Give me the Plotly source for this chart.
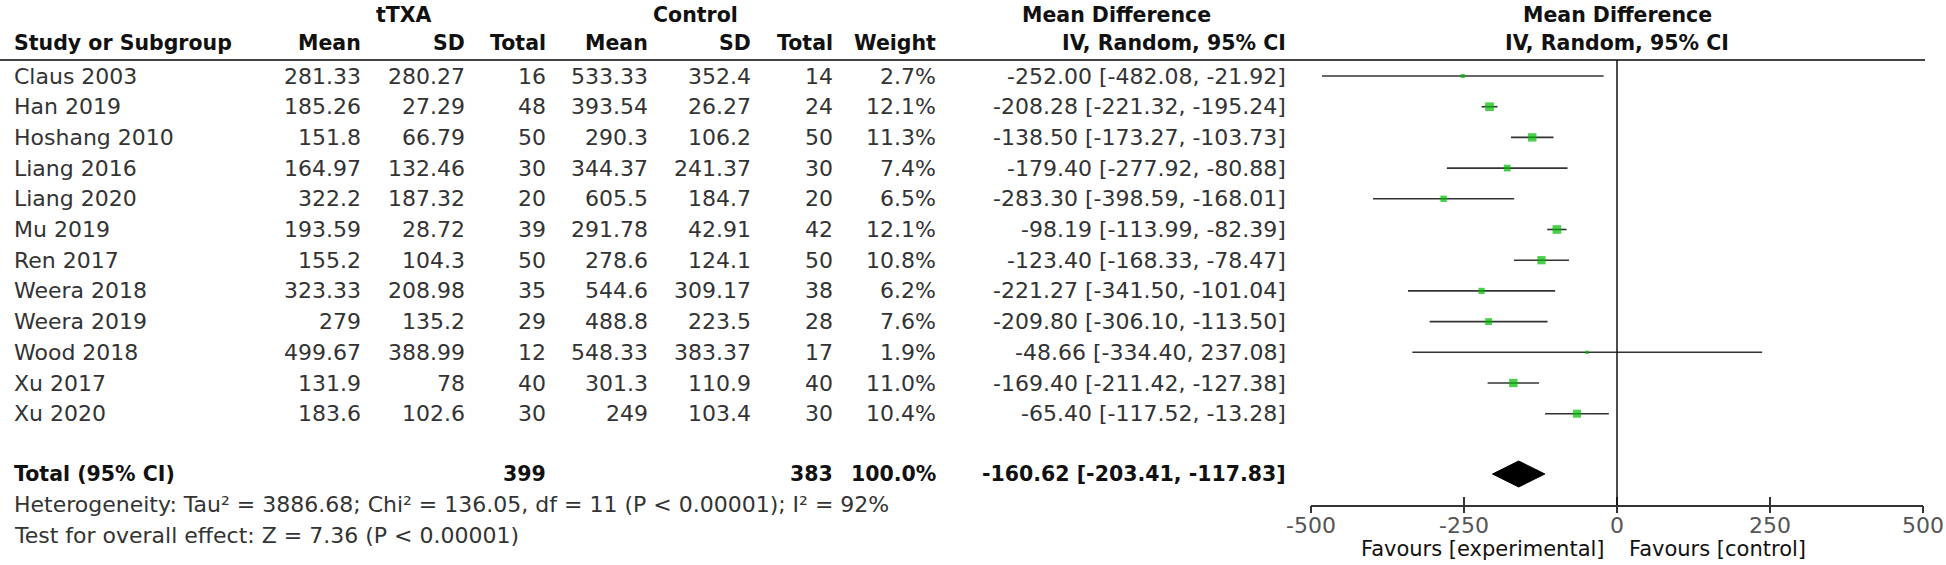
import plotly.graph_objects as go
import numpy as np

# ---------------- data ----------------
studies = ["Claus 2003", "Han 2019", "Hoshang 2010", "Liang 2016", "Liang 2020", "Mu 2019",
           "Ren 2017", "Weera 2018", "Weera 2019", "Wood 2018", "Xu 2017", "Xu 2020"]
t_mean = [281.33, 185.26, 151.8, 164.97, 322.2, 193.59, 155.2, 323.33, 279, 499.67, 131.9, 183.6]
t_sd = [280.27, 27.29, 66.79, 132.46, 187.32, 28.72, 104.3, 208.98, 135.2, 388.99, 78, 102.6]
t_n = [16, 48, 50, 30, 20, 39, 50, 35, 29, 12, 40, 30]
c_mean = [533.33, 393.54, 290.3, 344.37, 605.5, 291.78, 278.6, 544.6, 488.8, 548.33, 301.3, 249]
c_sd = [352.4, 26.27, 106.2, 241.37, 184.7, 42.91, 124.1, 309.17, 223.5, 383.37, 110.9, 103.4]
c_n = [14, 24, 50, 30, 20, 42, 50, 38, 28, 17, 40, 30]
weight = [2.7, 12.1, 11.3, 7.4, 6.5, 12.1, 10.8, 6.2, 7.6, 1.9, 11.0, 10.4]
md = [-252.00, -208.28, -138.50, -179.40, -283.30, -98.19, -123.40, -221.27, -209.80, -48.66, -169.40, -65.40]
ci_lo = [-482.08, -221.32, -173.27, -277.92, -398.59, -113.99, -168.33, -341.50, -306.10, -334.40, -211.42, -117.52]
ci_hi = [-21.92, -195.24, -103.73, -80.88, -168.01, -82.39, -78.47, -101.04, -113.50, 237.08, -127.38, -13.28]

total_t_n = 399
total_c_n = 383
total_weight = 100.0
total_md = -160.62
total_lo = -203.41
total_hi = -117.83

heterogeneity = "Heterogeneity: Tau² = 3886.68; Chi² = 136.05, df = 11 (P < 0.00001); I² = 92%"
overall = "Test for overall effect: Z = 7.36 (P < 0.00001)"

tick_vals = [-500, -250, 0, 250, 500]
tick_text = ["-500", "-250", "0", "250", "500"]

# ---------------- layout constants ----------------
W, H = 1946, 565
ROW0_PX, ROW_STEP = 76, 30.7        # pixel centre of first study row, row spacing
AXIS_PX = 505                        # pixel of the forest x-axis line


def row_of(px):
    return (px - ROW0_PX) / ROW_STEP


def xp(px):
    return px / W


def yp(px):
    return 1 - px / H


rows = list(range(len(studies)))
total_row = row_of(474)

BODY = dict(family="DejaVu Sans", size=22, color="#333333")
BOLD = dict(family="DejaVu Sans", size=20.5, color="#111111", weight="bold")
SMALL = dict(family="DejaVu Sans", size=22, color="#333333")
FAV = dict(family="DejaVu Sans", size=21, color="#111111")

fig = go.Figure()

# CI lines
lx, ly = [], []
for r, lo, hi in zip(rows, ci_lo, ci_hi):
    lx += [lo, hi, None]
    ly += [r, r, None]
fig.add_trace(go.Scatter(x=lx, y=ly, mode="lines", line=dict(color="#333333", width=1.6),
                         hoverinfo="skip", showlegend=False))

# squares (area proportional to weight)
fig.add_trace(go.Scatter(x=md, y=rows, mode="markers",
                         marker=dict(symbol="square", color="#00bb00",
                                     size=[2.5 * np.sqrt(w) for w in weight],
                                     line=dict(width=0)),
                         showlegend=False))

# diamond
dh = 13 / ROW_STEP
fig.add_trace(go.Scatter(x=[total_lo, total_md, total_hi, total_md, total_lo],
                         y=[total_row, total_row - dh, total_row, total_row + dh, total_row],
                         mode="lines", fill="toself", fillcolor="#000000",
                         line=dict(color="#000000", width=1), showlegend=False))

ann = []


def txt(x_px, y_row, s, anchor, font):
    ann.append(dict(x=xp(x_px), y=y_row, xref="paper", yref="y", text=s, showarrow=False,
                    xanchor=anchor, yanchor="middle", font=font))


# header texts
hdr1 = row_of(15)
hdr2 = row_of(43)
txt(404, hdr1, "tTXA", "center", BOLD)
txt(695, hdr1, "Control", "center", BOLD)
txt(1116, hdr1, "Mean Difference", "center", BOLD)
txt(1617, hdr1, "Mean Difference", "center", BOLD)
txt(12, hdr2, "Study or Subgroup", "left", BOLD)
col_right = [363, 467, 548, 650, 753, 835, 938, 1288]
col_heads = ["Mean", "SD", "Total", "Mean", "SD", "Total", "Weight", "IV, Random, 95% CI"]
for xpx, h in zip(col_right, col_heads):
    txt(xpx, hdr2, h, "right", BOLD)
txt(1617, hdr2, "IV, Random, 95% CI", "center", BOLD)

# study rows
for i, r in enumerate(rows):
    txt(12, r, studies[i], "left", BODY)
    vals = [f"{t_mean[i]:g}", f"{t_sd[i]:g}", f"{t_n[i]}", f"{c_mean[i]:g}", f"{c_sd[i]:g}",
            f"{c_n[i]}", f"{weight[i]:.1f}%",
            f"{md[i]:.2f} [{ci_lo[i]:.2f}, {ci_hi[i]:.2f}]"]
    for xpx, v in zip(col_right, vals):
        txt(xpx, r, v, "right", BODY)

# total row
txt(12, total_row, "Total (95% CI)", "left", BOLD)
txt(548, total_row, f"{total_t_n}", "right", BOLD)
txt(835, total_row, f"{total_c_n}", "right", BOLD)
txt(938, total_row, f"{total_weight:.1f}%", "right", BOLD)
txt(1288, total_row, f"{total_md:.2f} [{total_lo:.2f}, {total_hi:.2f}]", "right", BOLD)

for ypx, s in [(505, heterogeneity), (535, overall)]:
    ann.append(dict(x=xp(12), y=yp(ypx), xref="paper", yref="paper", text=s, showarrow=False,
                    xanchor="left", yanchor="middle", font=SMALL))

# favours labels
ann.append(dict(x=0, y=yp(549), xref="x", yref="paper", text="Favours [experimental]",
                showarrow=False, xanchor="right", yanchor="middle", xshift=-10, font=FAV))
ann.append(dict(x=0, y=yp(549), xref="x", yref="paper", text="Favours [control]",
                showarrow=False, xanchor="left", yanchor="middle", xshift=10, font=FAV))

shapes = [
    dict(type="line", xref="paper", yref="y", x0=0, x1=xp(1925), y0=row_of(60), y1=row_of(60),
         line=dict(color="#444444", width=2)),
    dict(type="line", xref="x", yref="y", x0=0, x1=0, y0=row_of(60), y1=row_of(AXIS_PX),
         line=dict(color="#111111", width=1.5)),
]

dom = [xp(1311), xp(1923)]
fig.update_layout(
    width=W, height=H, margin=dict(l=0, r=0, t=0, b=0, autoexpand=False),
    paper_bgcolor="white", plot_bgcolor="white",
    showlegend=False, annotations=ann, shapes=shapes,
    xaxis=dict(domain=dom, range=[-500, 500], autorange=False, showgrid=False, zeroline=False,
               showline=True, linecolor="#333333", linewidth=1.5,
               ticks="inside", ticklen=8, tickwidth=1.5, tickcolor="#333333",
               tickmode="array", tickvals=tick_vals, ticktext=tick_text,
               ticklabelstandoff=0,
               tickfont=dict(family="DejaVu Sans", size=22, color="#555555"),
               fixedrange=True),
    xaxis2=dict(domain=dom, range=[-500, 500], autorange=False, overlaying="x", anchor="y",
                side="bottom", showgrid=False, zeroline=False, showline=False,
                ticks="outside", ticklen=7, tickwidth=1.5, tickcolor="#333333",
                tickmode="array", tickvals=tick_vals, showticklabels=False),
    yaxis=dict(domain=[1 - AXIS_PX / H, 1], range=[row_of(AXIS_PX), row_of(0)], autorange=False,
               visible=False, showgrid=False, zeroline=False, fixedrange=True),
)
# invisible trace so that xaxis2 is drawn
fig.add_trace(go.Scatter(x=[0], y=[0], xaxis="x2", yaxis="y", mode="markers",
                         marker=dict(opacity=0), hoverinfo="skip", showlegend=False))

fig.write_html("out.html", config={"displayModeBar": False, "staticPlot": True},
               post_script="document.body.style.margin='0';document.body.style.overflow='hidden';")
